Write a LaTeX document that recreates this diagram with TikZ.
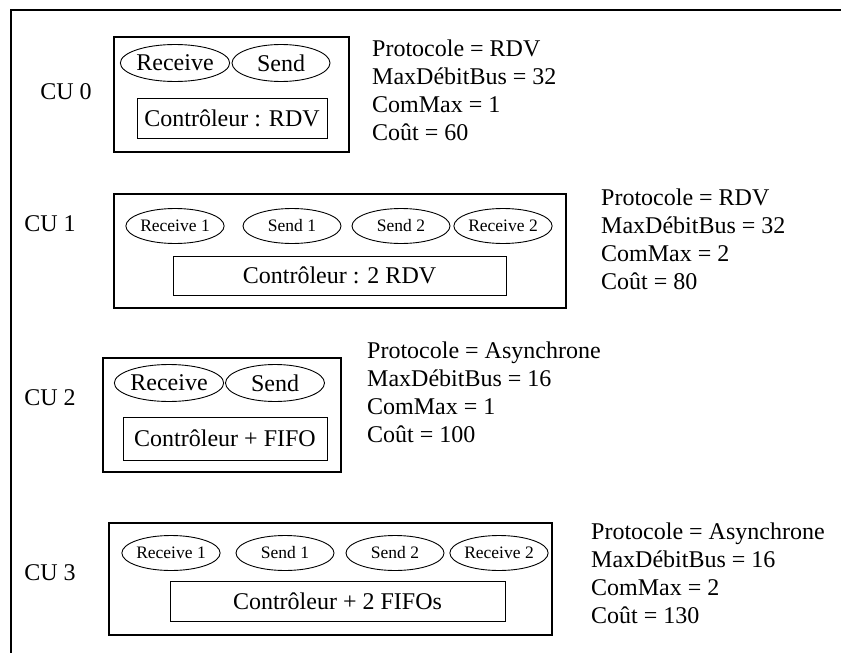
\documentclass[tikz,border=0pt]{standalone}
\usepackage{fontspec}
\setmainfont{Liberation Serif}
\usetikzlibrary{shapes.geometric,positioning}

\begin{document}
\begin{tikzpicture}[
		x=1pt, y=-1pt,
		every node/.style={font=\fontsize{24}{28}\selectfont},
		unit/.style={draw, line width=1.2pt, inner sep=0pt},
		port/.style={draw, ellipse, line width=0.9pt, inner sep=0pt, minimum width=99pt, minimum height=37pt},
		smallport/.style={port, font=\fontsize{17.5}{20}\selectfont, minimum width=98pt, minimum height=35pt},
		ctrl/.style={draw, line width=0.9pt, inner sep=0pt},
		param/.style={align=left, anchor=west, inner sep=0pt},
		culabel/.style={inner sep=0pt}
	]
		\useasboundingbox (0,0) rectangle (841,653);
		\draw[line width=1.2pt] (11,653) -- (11,10) -- (841,10);

		% CU 0
		\node[culabel] (l0) at (66,92) {CU 0};
		\node[unit, minimum width=235pt, minimum height=115pt] (cu0) at (231.5,94.5) {};
		\node[port, minimum width=101pt] (rcv0) at (175,63) {Receive};
		\node[port, minimum width=98pt] (snd0) at (281,63) {Send};
		\node[ctrl, minimum width=190pt, minimum height=40pt] (ctl0) at (232,118) {Contrôleur : RDV};
		\node[param] (par0) at (372,90.5)
			{Protocole = RDV \\ MaxDébitBus = 32 \\ ComMax = 1 \\ Coût = 60};

		% CU 1
		\node[culabel] (l1) at (50,224) {CU 1};
		\node[unit, minimum width=452pt, minimum height=114pt] (cu1) at (340,251) {};
		\node[smallport] (rcv1a) at (175,226) {Receive 1};
		\node[smallport] (snd1a) at (292,226) {Send 1};
		\node[smallport] (snd1b) at (401,226) {Send 2};
		\node[smallport] (rcv1b) at (503,226) {Receive 2};
		\node[ctrl, minimum width=333pt, minimum height=39pt] (ctl1) at (339.5,275.5) {Contrôleur : 2 RDV};
		\node[param] (par1) at (601,239)
			{Protocole = RDV \\ MaxDébitBus = 32 \\ ComMax = 2 \\ Coût = 80};

		% CU 2
		\node[culabel] (l2) at (50,398) {CU 2};
		\node[unit, minimum width=238pt, minimum height=114pt] (cu2) at (222,415) {};
		\node[port, minimum width=101pt] (rcv2) at (169,383) {Receive};
		\node[port] (snd2) at (275,383) {Send};
		\node[ctrl, minimum width=204pt, minimum height=43pt] (ctl2) at (225,438.5) {Contrôleur + FIFO};
		\node[param] (par2) at (367,392.5)
			{Protocole = Asynchrone \\ MaxDébitBus = 16 \\ ComMax = 1 \\ Coût = 100};

		% CU 3
		\node[culabel] (l3) at (50,573) {CU 3};
		\node[unit, minimum width=443pt, minimum height=112pt] (cu3) at (330.5,579) {};
		\node[smallport] (rcv3a) at (171,553) {Receive 1};
		\node[smallport] (snd3a) at (285,553) {Send 1};
		\node[smallport] (snd3b) at (395,553) {Send 2};
		\node[smallport] (rcv3b) at (499,553) {Receive 2};
		\node[ctrl, minimum width=335pt, minimum height=40pt] (ctl3) at (337.5,601) {Contrôleur + 2 FIFOs};
		\node[param] (par3) at (591,573.5)
			{Protocole = Asynchrone \\ MaxDébitBus = 16 \\ ComMax = 2 \\ Coût = 130};
	\end{tikzpicture}
\end{document}
